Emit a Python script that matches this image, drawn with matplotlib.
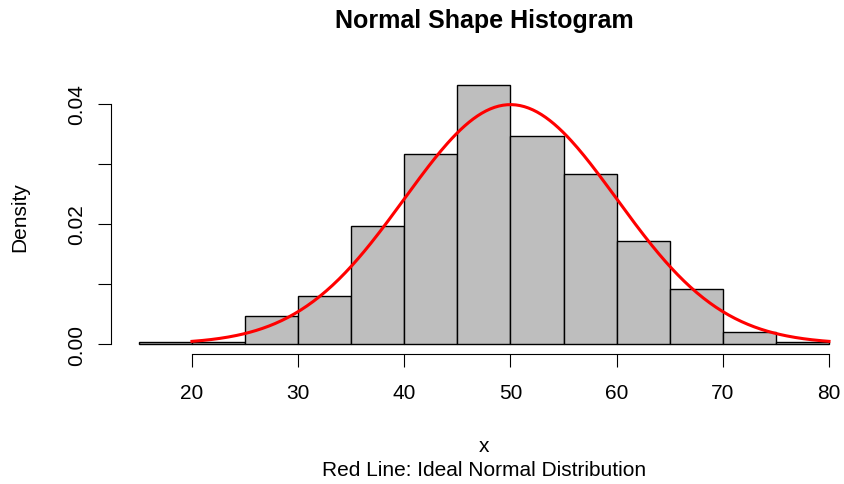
import matplotlib
matplotlib.use("Agg")
import matplotlib.pyplot as plt
import numpy as np

# histogram breaks and densities
breaks = [15, 20, 25, 30, 35, 40, 45, 50, 55, 60, 65, 70, 75, 80]
density = [0.0004, 0.0004, 0.0047, 0.0080, 0.0196, 0.0316, 0.0432,
           0.0347, 0.0283, 0.0172, 0.0092, 0.0020, 0.0004]
# ideal normal curve parameters
mu = 50
sigma = 10
curve_from = 20
curve_to = 80
xticks = [20, 30, 40, 50, 60, 70, 80]
yticks = [0.00, 0.01, 0.02, 0.03, 0.04]
ylabels = ["0.00", "", "0.02", "", "0.04"]

plt.rcParams['font.family'] = ['Liberation Sans', 'DejaVu Sans']

W, H = 844, 485
fig = plt.figure(figsize=(W / 100, H / 100), dpi=100)
# plot region in pixels
left, right, top, bottom = 111.3, 844, 75.4, 355.4
ax = fig.add_axes([left / W, 1 - bottom / H, (right - left) / W, (bottom - top) / H])

widths = np.diff(breaks)
ax.bar(breaks[:-1], density, width=widths, align='edge', color='#bebebe',
       edgecolor='black', linewidth=1)

xs = np.linspace(curve_from, curve_to, 300)
ys = np.exp(-0.5 * ((xs - mu) / sigma) ** 2) / (sigma * np.sqrt(2 * np.pi))
ax.plot(xs, ys, color='red', linewidth=2.2)

ax.set_xlim(12.4, 12.4 + (right - left) / 10.617)
ax.set_ylim(-0.00173, 0.04493)

for s in ['top', 'right']:
    ax.spines[s].set_visible(False)
ax.spines['bottom'].set_bounds(20, 80)
ax.spines['left'].set_bounds(0, 0.04)

ax.set_xticks(xticks)
ax.set_xticklabels([str(t) for t in xticks], fontsize=15)
ax.set_yticks(yticks)
ax.set_yticklabels(ylabels, fontsize=15, rotation=90, va='center')
ax.tick_params(direction='out', length=9.4, width=0.8)
ax.tick_params(axis='x', pad=11)
ax.tick_params(axis='y', pad=9)

fig.text(484 / W, 1 - 28 / H, "Normal Shape Histogram",
         ha='center', va='baseline', fontsize=18, fontweight='bold')
fig.text(484 / W, 1 - 447 / H, "x", ha='center', va='center', fontsize=15)
fig.text(484 / W, 1 - 471 / H, "Red Line: Ideal Normal Distribution",
         ha='center', va='center', fontsize=15)
fig.text(20 / W, 1 - 217 / H, "Density", ha='center', va='center',
         rotation=90, fontsize=15)

fig.savefig("out.png", dpi=100)
